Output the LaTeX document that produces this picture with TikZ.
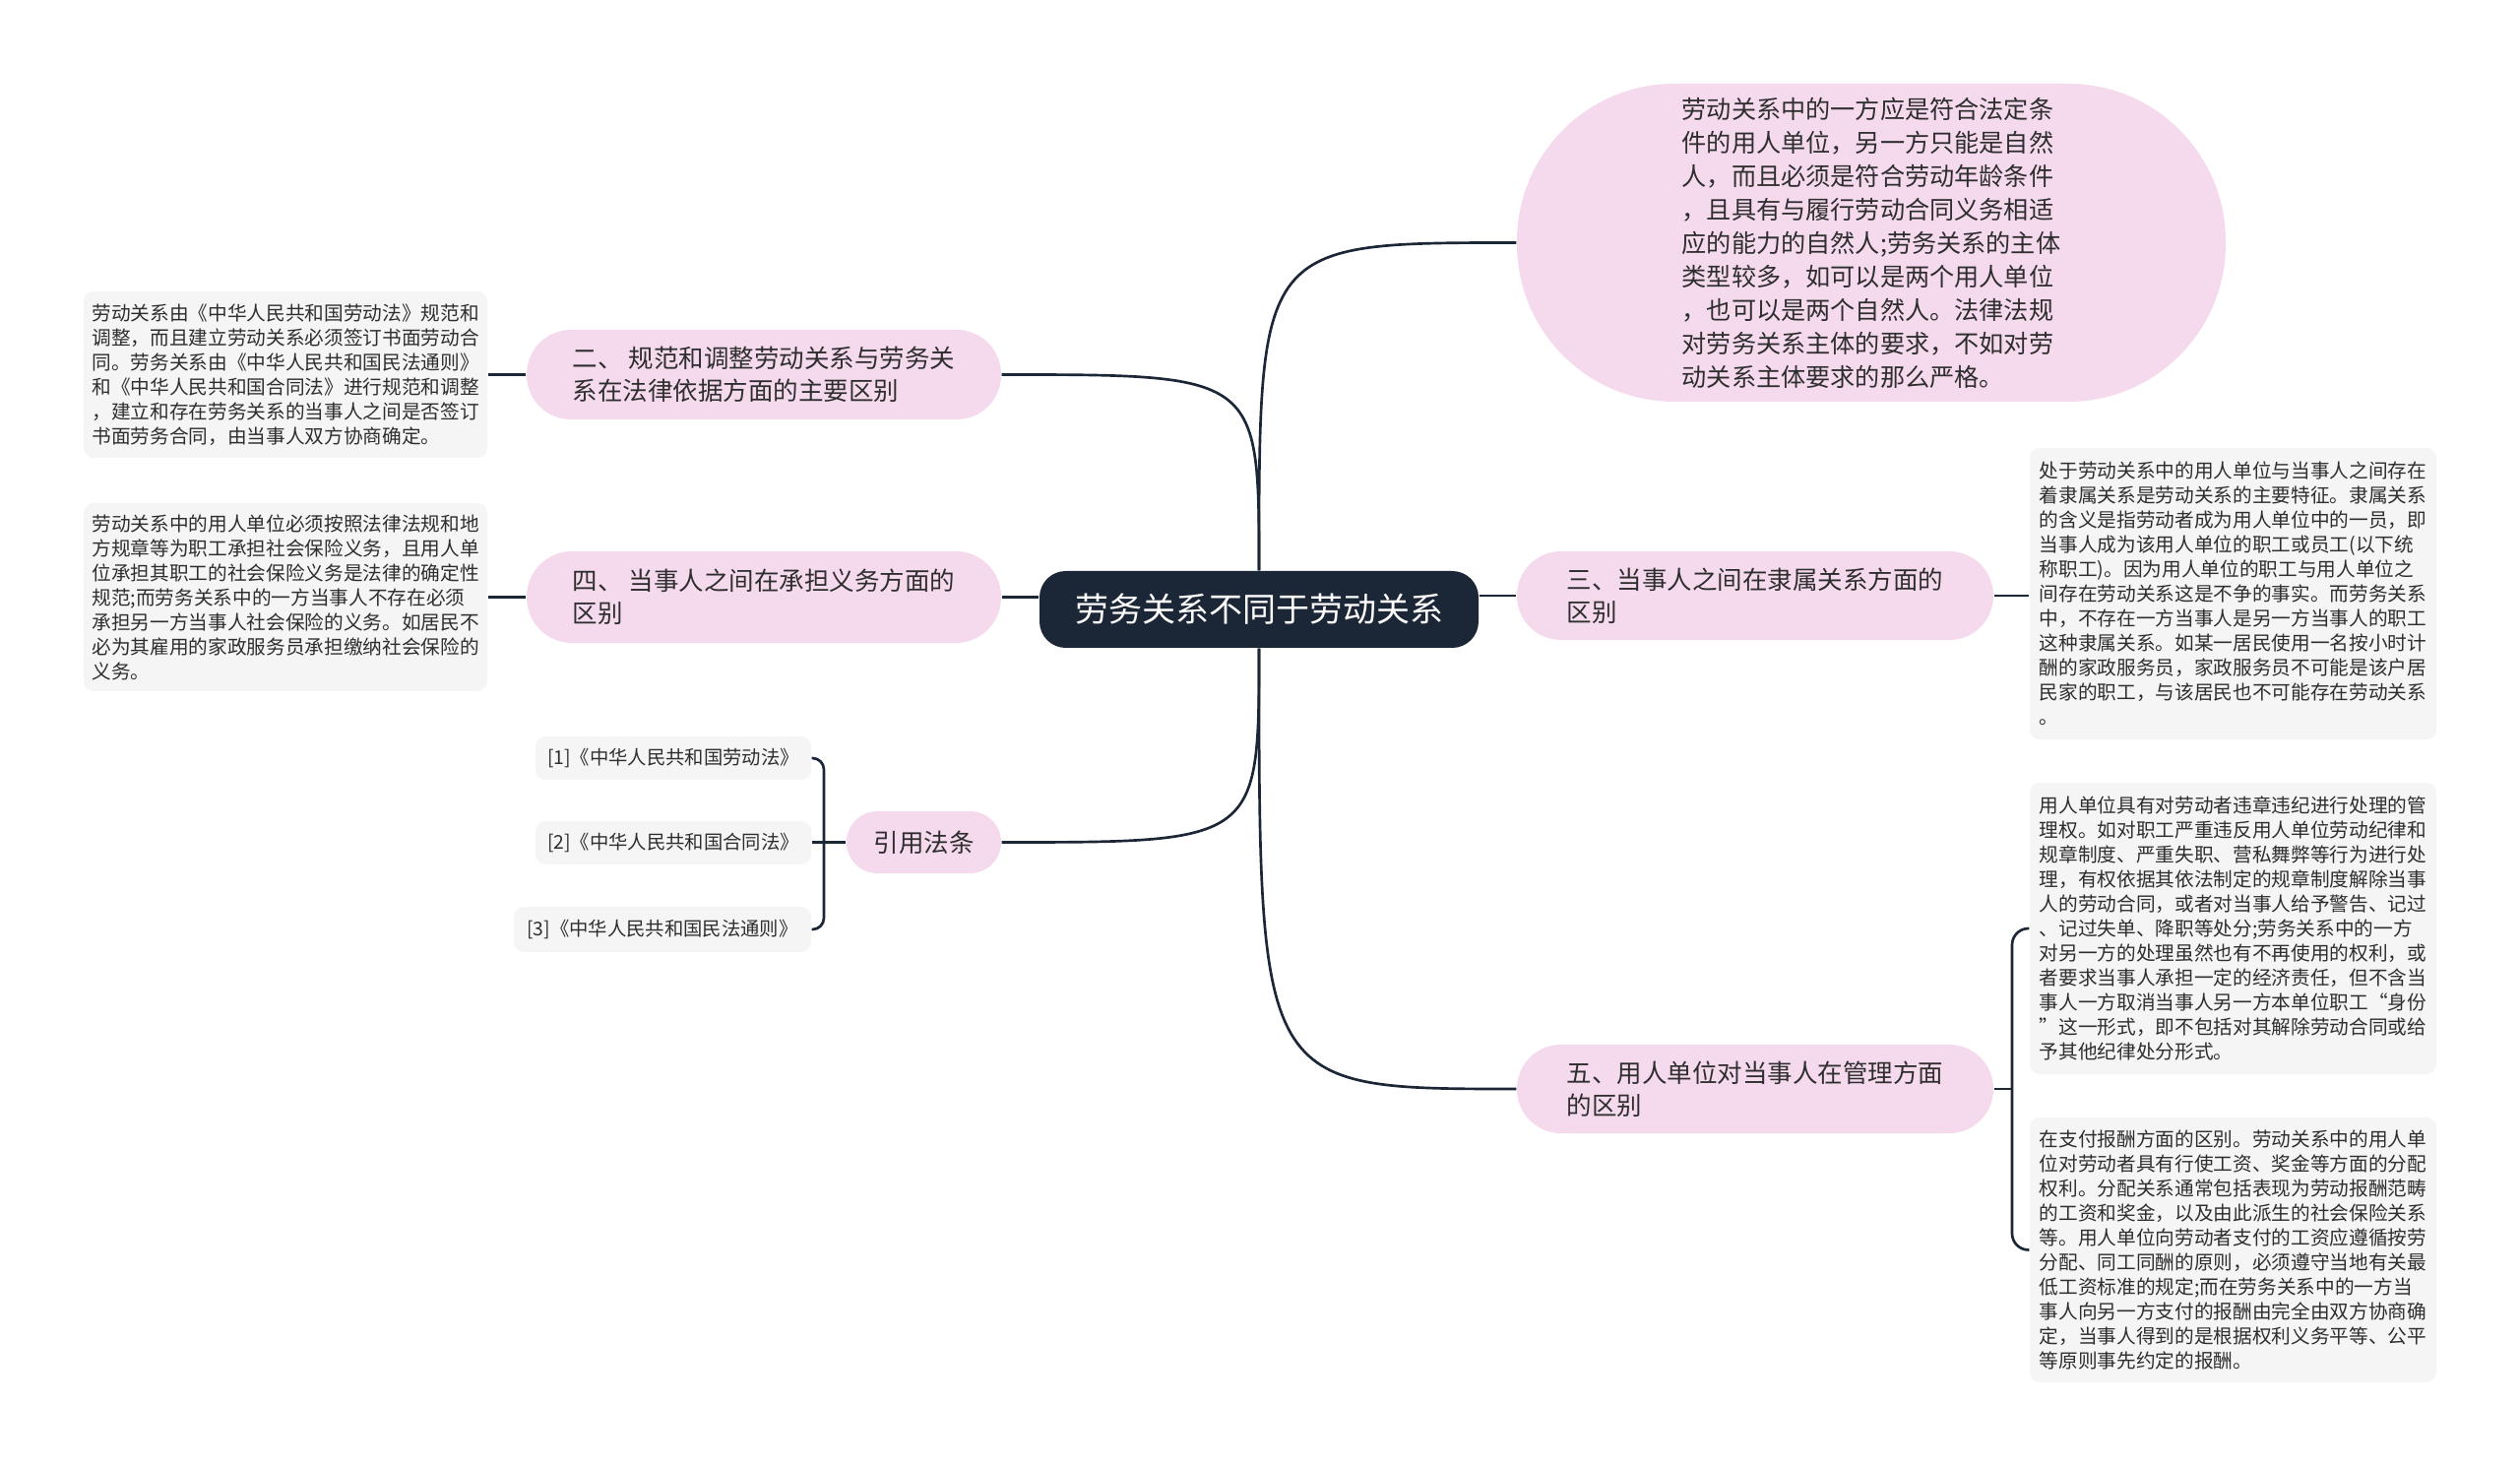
\documentclass[tikz,border=0pt]{standalone}
\usepackage{fontspec}
\setmainfont{Noto Sans CJK SC}
\usepackage{tikz}
\usetikzlibrary{arrows,shapes}
\definecolor{navy}{HTML}{1B2637}
\definecolor{pinkbg}{HTML}{F5DAEE}
\definecolor{greybg}{HTML}{F5F5F5}
\definecolor{txt}{HTML}{2E2E2E}
\tikzstyle{rootnode}=[rectangle,rounded corners=8pt,fill=navy,text=white,font=\fontsize{10.2}{12}\selectfont,minimum width=133.8pt,minimum height=23.4pt,inner sep=0pt]
\tikzstyle{branch}=[rectangle,fill=pinkbg,text=txt,align=left,inner sep=0pt,font=\fontsize{7.65}{9.9}\selectfont]
\tikzstyle{leaf}=[rectangle,rounded corners=3pt,fill=greybg,text=txt,align=left,inner sep=0pt,font=\fontsize{5.9}{7.5}\selectfont]
\tikzstyle{cite}=[rectangle,rounded corners=3pt,fill=greybg,text=txt,inner sep=0pt,font=\fontsize{5.8}{7}\selectfont]
\tikzstyle{edge} = [draw,navy,line width=0.8pt,-]

\begin{document}
\begin{tikzpicture}[x=0.3pt,y=-0.3pt]
        \useasboundingbox (0,0) rectangle (2560,1491);
        \node[rootnode] (root) at (1279,619) {劳务关系不同于劳动关系};
        % branches
        \node[branch,minimum width=216pt,minimum height=96.9pt,rounded corners=48pt,font=\fontsize{7.55}{10.2}\selectfont] (b1) at (1901,246.5) {劳动关系中的一方应是符合法定条\\件的用人单位，另一方只能是自然\\人，而且必须是符合劳动年龄条件\\，且具有与履行劳动合同义务相适\\应的能力的自然人;劳务关系的主体\\类型较多，如可以是两个用人单位\\，也可以是两个自然人。法律法规\\对劳务关系主体的要求，不如对劳\\动关系主体要求的那么严格。};
        \node[branch,minimum width=144.6pt,minimum height=27.3pt,rounded corners=13.5pt] (b2) at (776,380.5) {二、 规范和调整劳动关系与劳务关\\系在法律依据方面的主要区别};
        \node[branch,minimum width=144.6pt,minimum height=27.9pt,rounded corners=13.8pt] (b4) at (776,606.5) {四、 当事人之间在承担义务方面的\\区别};
        \node[branch,minimum width=47.1pt,minimum height=18.9pt,rounded corners=9.4pt] (b6) at (938.5,855.5) {引用法条};
        \node[branch,minimum width=145.2pt,minimum height=27pt,rounded corners=13.4pt] (b3) at (1783,605) {三、当事人之间在隶属关系方面的\\区别};
        \node[branch,minimum width=145.2pt,minimum height=27pt,rounded corners=13.4pt] (b5) at (1783,1106) {五、用人单位对当事人在管理方面\\的区别};
        % leaves
        \node[leaf,minimum width=123pt,minimum height=50.7pt] (l2) at (290,380.5) {劳动关系由《中华人民共和国劳动法》规范和\\调整，而且建立劳动关系必须签订书面劳动合\\同。劳务关系由《中华人民共和国民法通则》\\和《中华人民共和国合同法》进行规范和调整\\，建立和存在劳务关系的当事人之间是否签订\\书面劳务合同，由当事人双方协商确定。};
        \node[leaf,minimum width=123pt,minimum height=57.3pt] (l4) at (290,606.5) {劳动关系中的用人单位必须按照法律法规和地\\方规章等为职工承担社会保险义务，且用人单\\位承担其职工的社会保险义务是法律的确定性\\规范;而劳务关系中的一方当事人不存在必须\\承担另一方当事人社会保险的义务。如居民不\\必为其雇用的家政服务员承担缴纳社会保险的\\义务。};
        \node[cite,minimum width=84pt,minimum height=13.2pt] (r1) at (684,770) {[1]《中华人民共和国劳动法》};
        \node[cite,minimum width=84pt,minimum height=13.2pt] (r2) at (684,856) {[2]《中华人民共和国合同法》};
        \node[cite,minimum width=90.6pt,minimum height=13.8pt] (r3) at (673,944) {[3]《中华人民共和国民法通则》};
        \node[leaf,minimum width=123.9pt,minimum height=88.8pt] (l3) at (2268.5,603) {处于劳动关系中的用人单位与当事人之间存在\\着隶属关系是劳动关系的主要特征。隶属关系\\的含义是指劳动者成为用人单位中的一员，即\\当事人成为该用人单位的职工或员工(以下统\\称职工)。因为用人单位的职工与用人单位之\\间存在劳动关系这是不争的事实。而劳务关系\\中，不存在一方当事人是另一方当事人的职工\\这种隶属关系。如某一居民使用一名按小时计\\酬的家政服务员，家政服务员不可能是该户居\\民家的职工，与该居民也不可能存在劳动关系\\。};
        \node[leaf,minimum width=123.9pt,minimum height=88.8pt] (l5a) at (2268.5,943) {用人单位具有对劳动者违章违纪进行处理的管\\理权。如对职工严重违反用人单位劳动纪律和\\规章制度、严重失职、营私舞弊等行为进行处\\理，有权依据其依法制定的规章制度解除当事\\人的劳动合同，或者对当事人给予警告、记过\\、记过失单、降职等处分;劳务关系中的一方\\对另一方的处理虽然也有不再使用的权利，或\\者要求当事人承担一定的经济责任，但不含当\\事人一方取消当事人另一方本单位职工“身份\\”这一形式，即不包括对其解除劳动合同或给\\予其他纪律处分形式。};
        \node[leaf,minimum width=123.9pt,minimum height=80.7pt] (l5b) at (2268.5,1269.5) {在支付报酬方面的区别。劳动关系中的用人单\\位对劳动者具有行使工资、奖金等方面的分配\\权利。分配关系通常包括表现为劳动报酬范畴\\的工资和奖金，以及由此派生的社会保险关系\\等。用人单位向劳动者支付的工资应遵循按劳\\分配、同工同酬的原则，必须遵守当地有关最\\低工资标准的规定;而在劳务关系中的一方当\\事人向另一方支付的报酬由完全由双方协商确\\定，当事人得到的是根据权利义务平等、公平\\等原则事先约定的报酬。};
        \coordinate (j5) at (2044,1106);
        \coordinate (j6) at (837,855.5);
        % edges
        \draw[edge] (root.north) .. controls (1279,246.5) .. (b1.west);
        \draw[edge] (root.north) .. controls (1279,380.5) .. (b2.east);
        \draw[edge] (b4.east) -- (b4.east -| root.west);
        \draw[edge] (b3.west) -- (b3.west -| root.east);
        \draw[edge] (root.south) .. controls (1279,855.5) .. (b6.east);
        \draw[edge] (root.south) .. controls (1279,1106) .. (b5.west);
        \draw[edge] (b2.west) -- (l2.east);
        \draw[edge] (b4.west) -- (l4.east);
        \draw[edge] (b3.east) -- (b3.east -| l3.west);
        \draw[edge] (b5.east) -- (j5);
        \draw[edge,rounded corners=5pt] (j5) |- (l5a.west);
        \draw[edge,rounded corners=5pt] (j5) |- (l5b.west);
        \draw[edge] (b6.west) -- (j6);
        \draw[edge,rounded corners=3.5pt] (j6) |- (r1.east);
        \draw[edge] (j6) -- (j6 -| r2.east);
        \draw[edge,rounded corners=3.5pt] (j6) |- (r3.east);
      \end{tikzpicture}
\end{document}
